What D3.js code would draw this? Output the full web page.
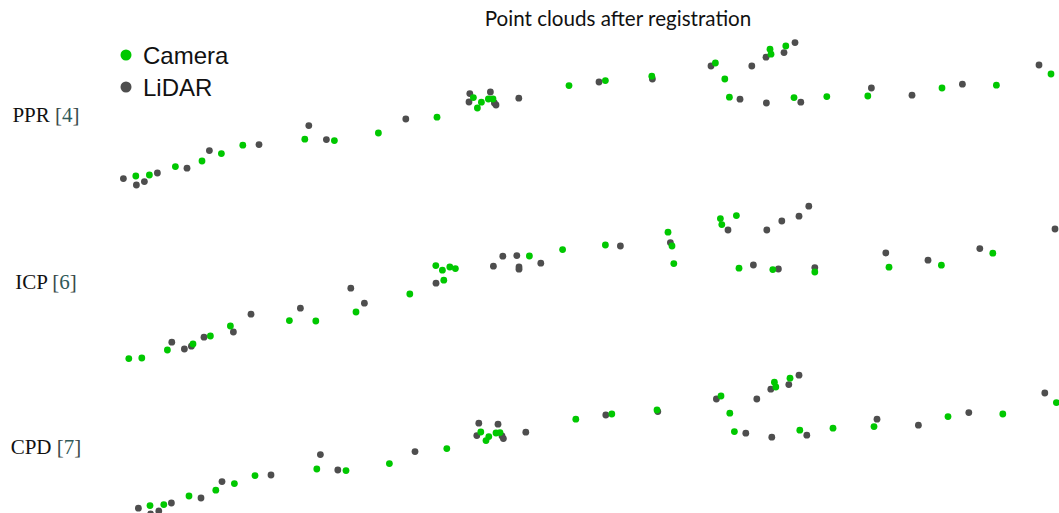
<!DOCTYPE html>
<html>
<head>
<meta charset="utf-8">
<script src="https://cdn.jsdelivr.net/npm/d3@7/dist/d3.min.js"></script>
<style>
  html, body { margin: 0; padding: 0; background: #ffffff; }
  svg { display: block; }
</style>
</head>
<body>
<svg id="chart" width="1059" height="513"></svg>
<script>
// Registered point clouds (metres) for three registration methods.
// Each point is [x, y]; camera-derived and LiDAR-derived points are kept apart.

const methods = ["PPR", "ICP", "CPD"];
const citations = ["4", "6", "7"];

const pprCamera = [
  [1.79, 0.95], [2.47, 1.00], [3.77, 1.42], [5.10, 1.70], [6.07, 2.07], [7.14, 2.49],
  [10.24, 2.79], [11.72, 2.72], [13.92, 3.10], [16.85, 3.89], [18.67, 4.87], [19.07, 4.64],
  [18.87, 4.35], [19.42, 4.80], [19.65, 4.80], [23.45, 5.47], [25.27, 5.72], [27.59, 5.94],
  [30.77, 6.60], [31.24, 5.80], [31.47, 4.89], [33.50, 7.29], [33.55, 7.04], [34.29, 7.45],
  [34.70, 4.87], [36.34, 4.92], [38.39, 4.95], [42.10, 5.35], [44.82, 5.49], [47.55, 6.05]
];
const pprLidar = [
  [1.17, 0.82], [1.82, 0.50], [2.22, 0.67], [2.87, 1.10], [4.35, 1.34], [5.47, 2.22],
  [7.95, 2.52], [10.44, 3.47], [11.32, 2.77], [15.29, 3.80], [18.49, 5.07], [18.45, 4.65],
  [19.52, 5.15], [19.72, 4.60], [19.80, 4.50], [20.94, 4.84], [24.95, 5.65], [27.62, 5.80],
  [30.55, 6.45], [32.00, 4.79], [32.59, 6.45], [33.30, 6.89], [33.32, 4.60], [34.20, 7.12],
  [34.75, 7.62], [35.04, 4.64], [38.57, 5.35], [40.60, 4.99], [43.12, 5.54], [46.95, 6.50]
];

const icpCamera = [
  [1.44, 0.32], [2.09, 0.35], [3.37, 0.75], [4.65, 1.05], [5.52, 1.45], [6.52, 1.95],
  [9.47, 2.22], [10.79, 2.20], [12.80, 2.65], [15.49, 3.55], [17.19, 4.24], [16.79, 4.97],
  [17.12, 4.74], [17.49, 4.90], [17.77, 4.82], [21.47, 5.45], [23.13, 5.77], [25.27, 6.00],
  [28.40, 6.64], [28.60, 5.95], [28.69, 5.07], [31.02, 7.32], [31.09, 7.02], [31.82, 7.47],
  [31.95, 4.84], [33.64, 4.77], [35.74, 4.65], [39.45, 4.89], [42.07, 4.99], [44.64, 5.59]
];
const icpLidar = [
  [3.59, 1.14], [4.22, 0.80], [4.57, 0.94], [5.20, 1.39], [6.67, 1.65], [7.55, 2.54],
  [10.02, 2.84], [12.54, 3.84], [13.22, 3.09], [16.80, 4.09], [19.67, 4.94], [20.14, 5.44],
  [20.84, 5.47], [20.95, 4.90], [20.95, 4.79], [22.04, 5.09], [26.02, 5.95], [28.52, 6.12],
  [31.40, 6.75], [32.67, 5.00], [33.34, 6.75], [33.92, 4.80], [34.09, 7.20], [34.95, 7.44],
  [35.44, 7.94], [35.74, 4.87], [39.29, 5.60], [41.40, 5.24], [43.99, 5.82], [47.75, 6.80]
];

const cpdCamera = [
  [2.50, 0.72], [3.19, 0.77], [4.45, 1.20], [5.79, 1.49], [6.72, 1.82], [7.75, 2.22],
  [10.84, 2.55], [12.30, 2.47], [14.47, 2.82], [17.34, 3.57], [19.04, 4.40], [19.44, 4.17],
  [19.30, 3.97], [19.80, 4.35], [20.00, 4.37], [23.79, 5.04], [25.59, 5.30], [27.85, 5.50],
  [31.05, 6.20], [31.49, 5.34], [31.72, 4.42], [33.72, 6.89], [33.79, 6.65], [34.50, 7.09],
  [34.99, 4.49], [36.65, 4.59], [38.70, 4.67], [42.40, 5.17], [45.14, 5.30], [47.82, 5.87]
];
const cpdLidar = [
  [1.92, 0.59], [2.53, 0.30], [2.94, 0.45], [3.57, 0.85], [5.05, 1.10], [6.10, 1.92],
  [8.55, 2.25], [11.02, 3.27], [11.89, 2.50], [15.75, 3.42], [18.94, 4.84], [18.84, 4.22],
  [19.90, 4.79], [20.10, 4.20], [20.17, 4.07], [21.29, 4.39], [25.29, 5.25], [27.89, 5.42],
  [30.82, 6.05], [32.29, 4.34], [32.84, 6.05], [33.54, 6.54], [33.59, 4.14], [34.44, 6.77],
  [34.95, 7.24], [35.34, 4.24], [38.85, 5.04], [40.92, 4.74], [43.44, 5.37], [47.24, 6.35]
];

const legendLabels = ["Camera", "LiDAR"];
const titleText = "Point clouds after registration";

const cameraPoints = [pprCamera, icpCamera, cpdCamera];
const lidarPoints = [pprLidar, icpLidar, cpdLidar];

// ---- layout ----
const COLOR_CAMERA = "#00c800";
const COLOR_LIDAR = "#4e4e4e";
const DOT_R = 3.4;
const rowBottoms = [195, 365, 520];   // pixel line where y = 0 sits in each row
const rowLabelBaselines = [122, 289, 454];

const svg = d3.select("#chart");

const x = d3.scaleLinear().domain([0, 48]).range([100, 1060]);

methods.forEach((m, i) => {
  const y = d3.scaleLinear().domain([0, 8]).range([rowBottoms[i], rowBottoms[i] - 160]);
  const g = svg.append("g").attr("class", "row row-" + m);

  // LiDAR drawn first, camera on top
  g.append("g").selectAll("circle")
    .data(lidarPoints[i])
    .join("circle")
    .attr("cx", d => x(d[0]))
    .attr("cy", d => y(d[1]))
    .attr("r", DOT_R)
    .attr("fill", COLOR_LIDAR);

  g.append("g").selectAll("circle")
    .data(cameraPoints[i])
    .join("circle")
    .attr("cx", d => x(d[0]))
    .attr("cy", d => y(d[1]))
    .attr("r", DOT_R)
    .attr("fill", COLOR_CAMERA);

  // method label with citation
  const t = svg.append("text")
    .attr("x", 46)
    .attr("y", rowLabelBaselines[i])
    .attr("text-anchor", "middle")
    .attr("font-family", "'Liberation Serif', 'Times New Roman', serif")
    .attr("font-size", 21)
    .attr("fill", "#111");
  t.append("tspan").text(m + " ");
  t.append("tspan").attr("fill", "#3a4a4a").text("[");
  t.append("tspan").attr("fill", "#2f5a5a").text(citations[i]);
  t.append("tspan").attr("fill", "#3a4a4a").text("]");
});

// title
svg.append("text")
  .attr("x", 618)
  .attr("y", 26)
  .attr("text-anchor", "middle")
  .attr("font-family", "Lato, 'Open Sans', sans-serif")
  .attr("font-size", 20.6)
  .attr("fill", "#111")
  .text(titleText);

// legend
const legend = svg.append("g").attr("class", "legend");
const legendColors = [COLOR_CAMERA, COLOR_LIDAR];
legendLabels.forEach((lab, i) => {
  const cy = 55 + i * 32;
  legend.append("circle").attr("cx", 126).attr("cy", cy).attr("r", 5.5).attr("fill", legendColors[i]);
  legend.append("text")
    .attr("x", 143)
    .attr("y", cy + 8.5)
    .attr("font-family", "'Liberation Sans', Arial, sans-serif")
    .attr("font-size", 24)
    .attr("fill", "#111")
    .text(lab);
});
</script>
</body>
</html>
